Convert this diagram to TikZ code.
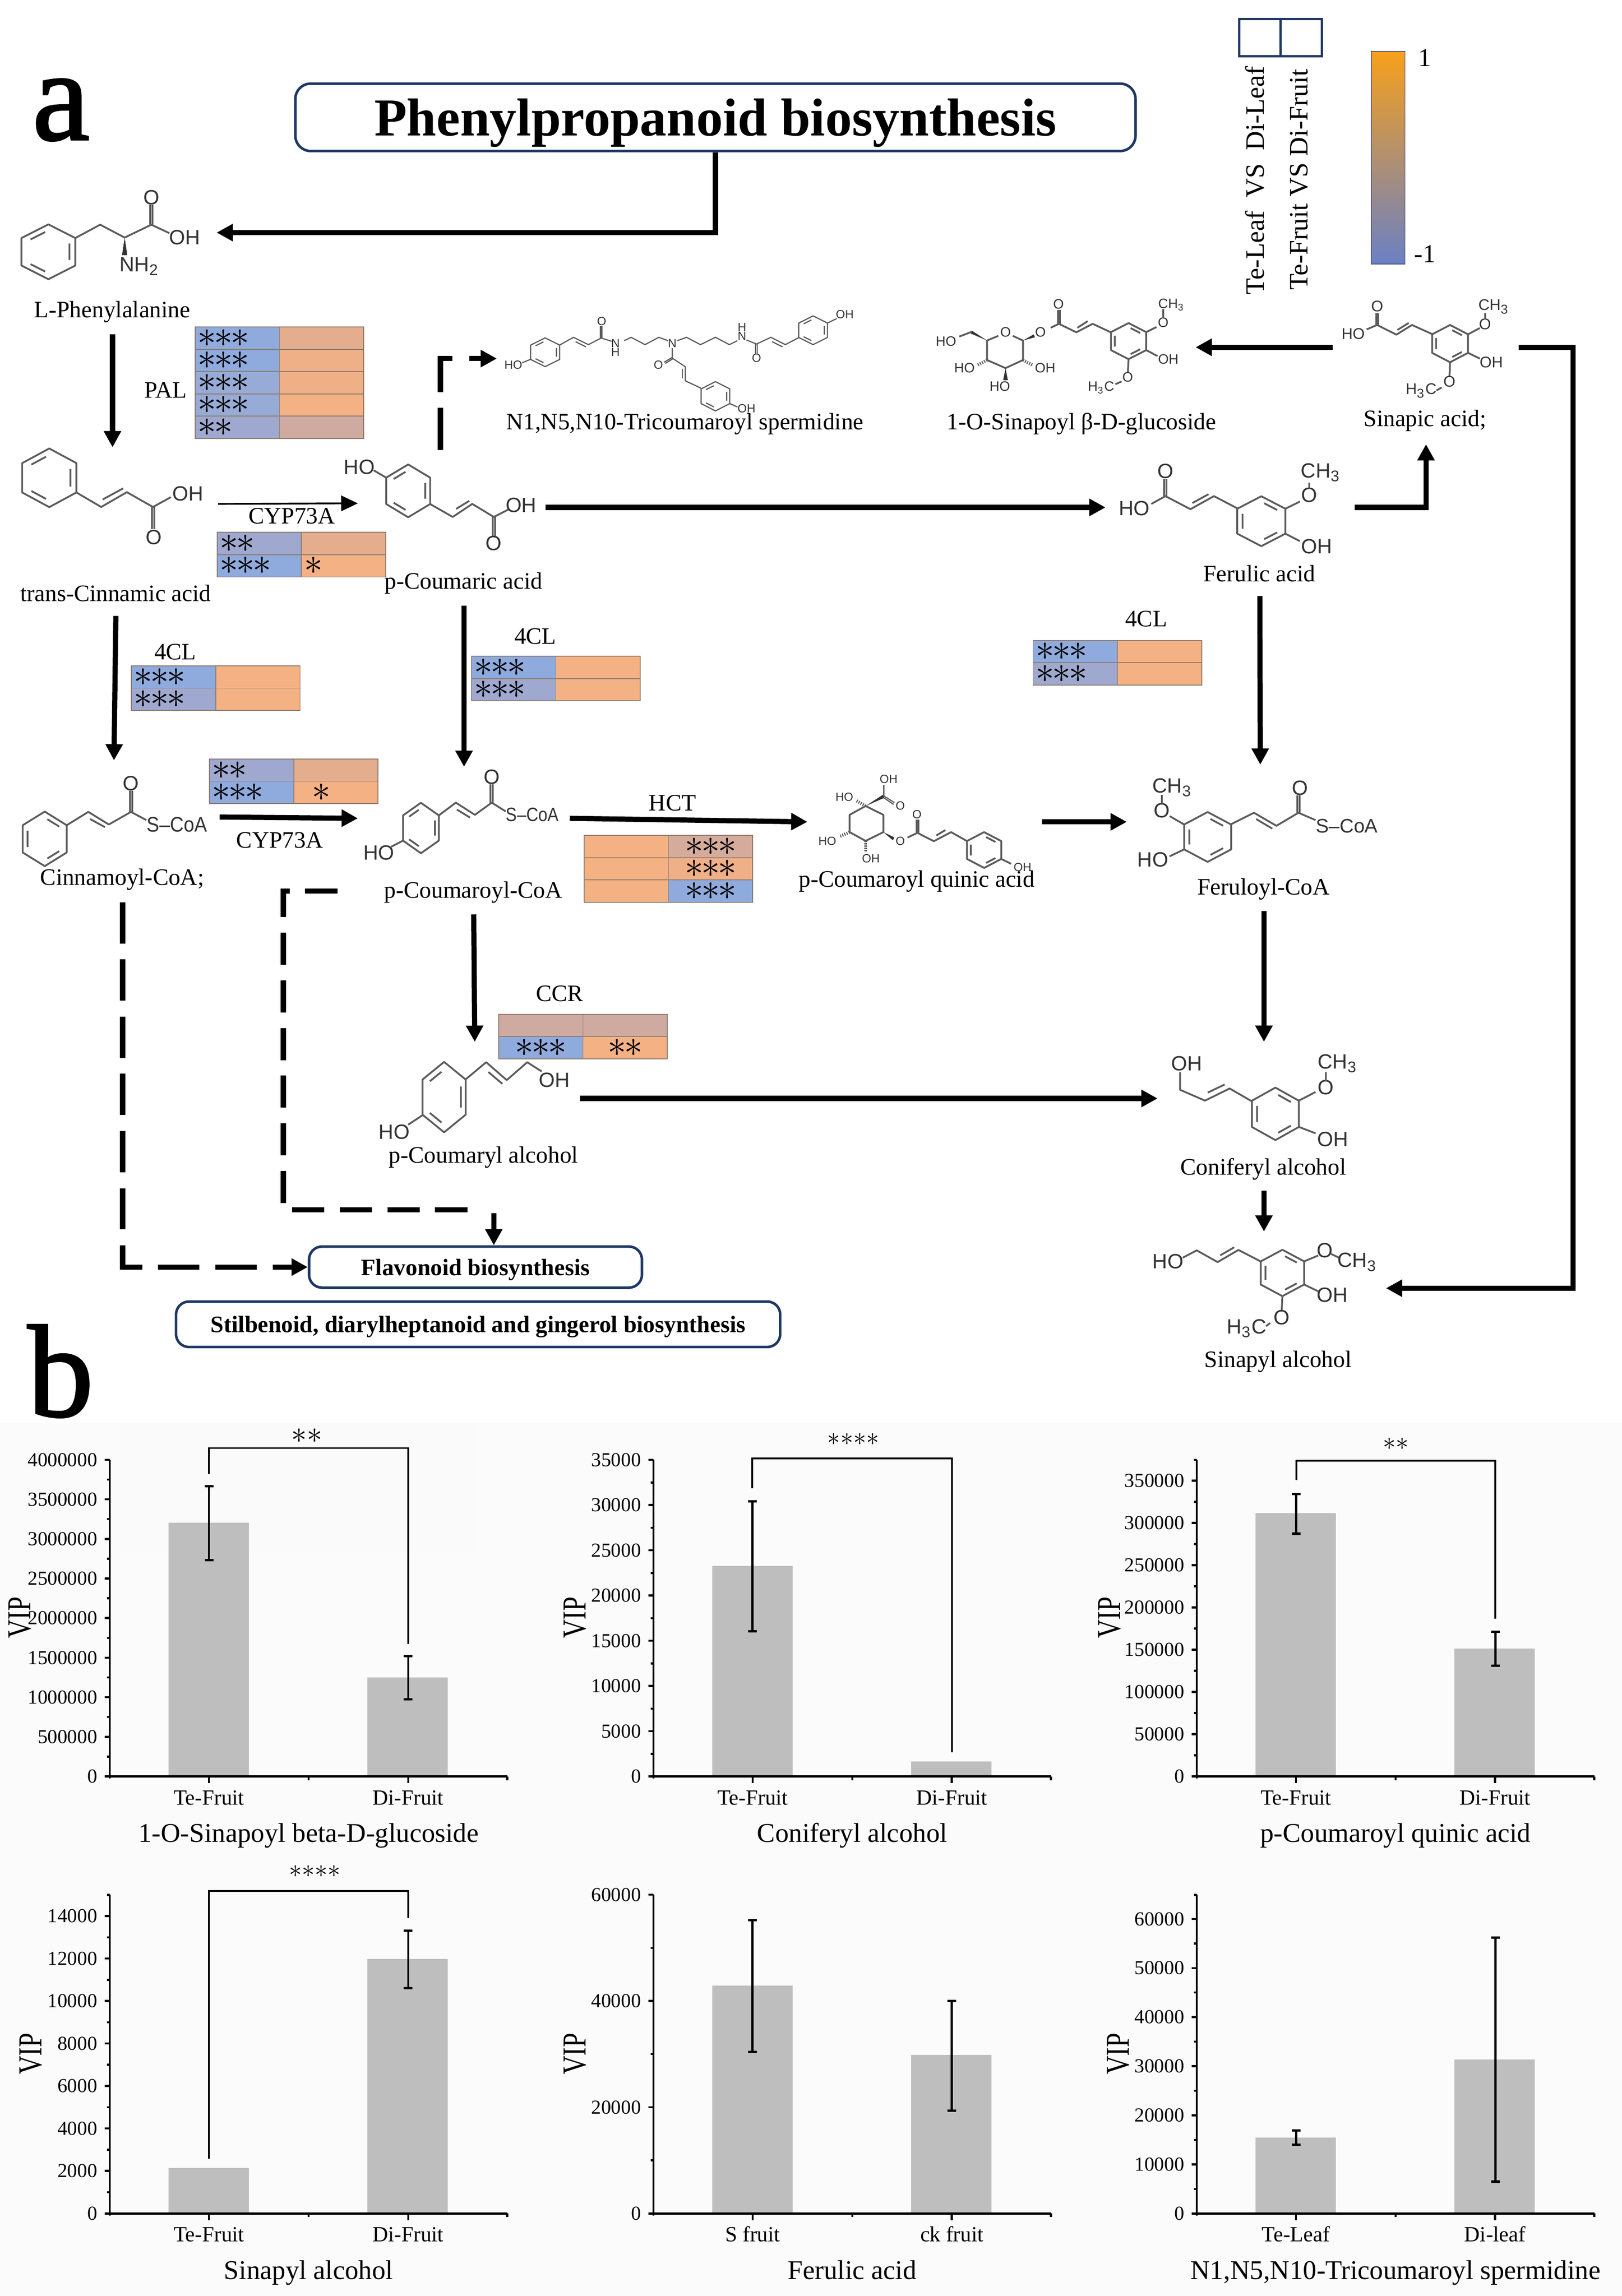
\documentclass[tikz,border=0pt]{standalone}
\usepackage{fontspec}
\setmainfont{Liberation Serif}
\newfontfamily\atomfont{Liberation Sans}
\newfontfamily\partfont[FakeBold=1.6]{Liberation Serif}
\usepackage{amsmath, amssymb}
\usetikzlibrary{positioning}
\usetikzlibrary{arrows.meta}

\definecolor{navybox}{HTML}{1F3864}
\definecolor{molgray}{HTML}{5C5C5C}
\definecolor{hblue}{HTML}{8FAADC}
\definecolor{hbluem}{HTML}{98ABD6}
\definecolor{hblueg}{HTML}{9FA8CE}
\definecolor{horange}{HTML}{F4B183}
\definecolor{horangeb}{HTML}{EFAF87}
\definecolor{hbrown}{HTML}{E4AE8E}
\definecolor{hrose}{HTML}{CEAAA0}
\definecolor{hline}{HTML}{8C7C70}
\definecolor{barfill}{HTML}{BEBEBE}

\tikzset{
	>={Triangle[length=6.3pt,width=6.4pt]},
	flow/.style={->,line width=2pt,draw=black},
	flowthin/.style={-{Triangle[length=6.5pt,width=6pt]},line width=.7pt,draw=black},
	pathbox/.style={draw=navybox,rounded corners=5pt,line width=1pt,fill=white,inner sep=0,text depth=0pt,font=\bfseries\fontsize{9.15}{11}\selectfont},
	lab/.style={inner sep=0,font=\fontsize{9.15}{11}\selectfont},
	bond/.style={draw=molgray,line width=.7pt,line join=round},
	bondthin/.style={draw=molgray,line width=.45pt,line join=round},
	hashbond/.style={draw=molgray,line width=1.2pt,dash pattern=on .4pt off .5pt},
	atom/.style={inner sep=0,text=black!80,font=\atomfont\fontsize{8}{9}\selectfont},
	atomsm/.style={inner sep=0,text=black!80,font=\atomfont\fontsize{5.3}{6}\selectfont},
	atomxs/.style={inner sep=0,text=black!80,font=\atomfont\fontsize{4.6}{5}\selectfont},
	heat/.style={draw=hline,line width=.3pt,inner xsep=.036cm,inner ysep=0,outer sep=0,text width=1.078cm,align=left,minimum width=1.15cm,minimum height=.304cm,anchor=north west,font=\fontsize{14.4}{14.4}\selectfont},
	heatc/.style={heat,align=center},
	axisline/.style={draw=black,line width=.8pt},
	errbar/.style={draw=black,line width=.8pt,{Bar[width=3.4pt,line width=.9pt]}-{Bar[width=3.4pt,line width=.9pt]}},
	bracket/.style={draw=black,line width=.7pt,line join=miter},
	ticklab/.style={inner sep=0,font=\fontsize{7.7}{9}\selectfont},
	barlab/.style={inner sep=0,text height=6pt,text depth=0pt,font=\fontsize{8.4}{9}\selectfont},
	charttitle/.style={inner sep=0,text height=8pt,text depth=2pt,font=\fontsize{10.5}{12}\selectfont},
	viplab/.style={inner sep=0,rotate=90,font=\fontsize{10}{12}\selectfont},
	sigstar/.style={inner sep=0,font=\fontsize{10}{10}\selectfont},
}

\newcommand{\onestar}{\mathord{\ast}}
\newcommand{\sthree}{$\onestar\mkern-1mu\onestar\mkern-1mu\onestar$}
\newcommand{\stwo}{$\onestar\mkern-1mu\onestar$}

% ring: style, centre x, centre y, half width, half height, side of the inner lines (1 or -1)
\newcommand{\molring}[6]{
	\begin{scope}[shift={(#2,#3)},x=#4*0.02cm,y=#5*0.02cm,xscale=#6]
		\draw[#1] (1,.5) -- (0,1) -- (-1,.5) -- (-1,-.5) -- (0,-1) -- (1,-.5) -- cycle;
		\draw[#1] (-.66,.45) -- (-.12,.72) (.78,.3) -- (.78,-.3) (-.66,-.45) -- (-.12,-.72);
	\end{scope}
}

% chart: name, left x, base y, top y, bar tops, bar labels, compound
\newcommand{\vipchart}[9]{
	\fill[barfill] (#2+40.1,#5) rectangle (#2+94.9,#3);
	\fill[barfill] (#2+175.7,#6) rectangle (#2+230.3,#3);
	\draw[axisline] (#2,#4) -- (#2,#3) -- (#2+271,#3);
	\foreach \dx/\len in {0/1.5,67.6/4.5,135.5/2.5,203.4/4.5,271/2.5}
		\draw[axisline] (#2+\dx,#3) -- (#2+\dx,#3+\len);
	\node[barlab] (#1a) at (#2+67.6,#3+14) {#7};
	\node[barlab] (#1b) at (#2+203.4,#3+14) {#8};
	\node[charttitle] (#1t) at (#2+135.5,#3+39.5) {#9};
}

% ticks: name, left x, base y, step, labels, last half step
\newcommand{\vipticks}[6]{
	\foreach \lab [count=\i from 0] in {#5}
		\draw[axisline] (#2-3.5,#3-\i*#4) node[ticklab,left=2.5pt] (#1y\i) {\lab} -- (#2,#3-\i*#4);
	\foreach \i in {0,...,#6}
		\draw[axisline] (#2-2,#3-\i*#4-.5*#4) -- (#2,#3-\i*#4-.5*#4);
}

\begin{document}
\begin{tikzpicture}[x=0.02cm,y=-0.02cm]
		\useasboundingbox (0,0) rectangle (1105.9,1565.6);
		\fill[white] (0,0) rectangle (1105.9,1565.6);
		\fill[black!1.5] (0,970) rectangle (1105.9,1565.6);
		\fill[black!2] (82,970) rectangle (324,1058);

		\node[inner sep=0,font=\partfont\fontsize{50}{52}\selectfont] (parta) at (41.6,75) {a};
		\node[inner sep=0,font=\partfont\fontsize{51}{52}\selectfont] (partb) at (41.3,935) {b};

		\node[pathbox,rounded corners=6pt,minimum width=11.46cm,minimum height=.92cm,font=\bfseries\fontsize{20.7}{24}\selectfont] (title) at (487.8,80) {Phenylpropanoid biosynthesis};
		\node[pathbox,minimum width=4.54cm,minimum height=.56cm] (flav) at (324.2,864) {Flavonoid biosynthesis};
		\node[pathbox,minimum width=8.24cm,minimum height=.62cm] (stilb) at (326,903) {Stilbenoid, diarylheptanoid and gingerol biosynthesis};

		% legend
		\node[draw=navybox,line width=.9pt,inner sep=0,outer sep=0,minimum width=.565cm,minimum height=.51cm] (lega) at (859,25.7) {};
		\node[draw=navybox,line width=.9pt,inner sep=0,outer sep=0,minimum width=.565cm,minimum height=.51cm,right=0 of lega] (legb) {};
		\node[inner sep=0,rotate=90,font=\fontsize{10.3}{12}\selectfont] (legal) at (855.5,123) {Te-Leaf\ \ VS\ \ Di-Leaf};
		\node[inner sep=0,rotate=90,font=\fontsize{10.3}{12}\selectfont] (leggl) at (885.6,122.5) {Te-Fruit VS Di-Fruit};
		\node[draw=black!40!blue!30!gray,line width=.3pt,inner sep=0,minimum width=.46cm,minimum height=2.9cm,top color={rgb,255:red,247;green,160;blue,27},middle color={rgb,255:red,170;green,148;blue,132},bottom color={rgb,255:red,107;green,128;blue,196}] (cbar) at (946.5,107.5) {};
		\node[inner sep=0,font=\fontsize{10}{12}\selectfont] (cbarhi) at (971.6,39.6) {1};
		\node[inner sep=0,font=\fontsize{10}{12}\selectfont] (cbarlo) at (971.6,173) {-1};

		% L-Phenylalanine
		\molring{bond}{33}{171.7}{18.4}{18.7}{1}
		\draw[bond] (51.4,162.3) -- (68.3,153.2) -- (85,162) -- (103.2,153.2) -- (115.5,159);
		\draw[bond] (102.4,153.2) -- (102.4,139.8) (104,153.2) -- (104,139.8);
		\fill[black!80] (85,162) -- (83.2,174) -- (86.8,174) -- cycle;
		\node[atom] (pheo) at (103.2,134.5) {O};
		\node[atom] (pheoh) at (126,162) {OH};
		\node[atom] (phenh) at (95,181.5) {NH\textsubscript{2}};
		\node[lab] (phelab) at (76.6,212.7) {L-Phenylalanine};

		% trans-Cinnamic acid
		\molring{bond}{33.6}{325.8}{18.5}{20}{1}
		\draw[bond] (52.1,335.8) -- (69,345.7) -- (86.5,335.6) -- (104.3,345.7) -- (116.5,339);
		\draw[bond] (70,340.6) -- (84,333);
		\draw[bond] (103.5,345.7) -- (103.5,360.6) (105.1,345.7) -- (105.1,360.6);
		\node[atom] (cinoh) at (128,336.5) {OH};
		\node[atom] (cino) at (105,366.5) {O};
		\node[lab] (cinlab) at (78.8,404.6) {trans-Cinnamic acid};

		% p-Coumaric acid
		\molring{bond}{278.3}{334.7}{15}{18}{1}
		\node[atom] (coumho) at (245,318.3) {HO};
		\draw[bond] (254.8,320.7) -- (263.3,325.7);
		\draw[bond] (293.3,343.7) -- (308.7,352.5) -- (322,343.6) -- (336.7,352.5) -- (346.5,347.5);
		\draw[bond] (311,347) -- (320,341.5);
		\draw[bond] (335.9,352.5) -- (335.9,366) (337.5,352.5) -- (337.5,366);
		\node[atom] (coumoh) at (355.3,344.5) {OH};
		\node[atom] (coumo) at (336.7,370.4) {O};
		\node[lab] (coumlab) at (316,397.8) {p-Coumaric acid};

		% N1,N5,N10-Tricoumaroyl spermidine
		\molring{bondthin}{371.7}{240.2}{9.9}{9.8}{1}
		\node[atomxs] (sperho) at (350,248.7) {HO};
		\draw[bondthin] (356,247.4) -- (361.8,245);
		\draw[bondthin] (381.6,235.3) -- (391,230) -- (401.2,235) -- (409.9,230.5) -- (417,232.7);
		\draw[bondthin] (392.5,233) -- (399.5,236.5);
		\draw[bondthin] (409.4,230.5) -- (409.4,222.2) (410.4,230.5) -- (410.4,222.2);
		\node[atomxs] (spero) at (410.2,219.2) {O};
		\node[atomxs] (spern) at (419.6,234.1) {N};
		\node[atomxs] (sperh) at (419.6,240) {H};
		\draw[bondthin] (425.6,232.3) -- (430.3,230) -- (439.8,235) -- (449.2,230) -- (455.5,232.3);
		\node[atomxs] (spernb) at (458.4,234.1) {N};
		\draw[bondthin] (461.8,232.3) -- (468.1,230) -- (477.6,235) -- (487.8,230) -- (497.3,235) -- (502.8,232.3);
		\node[atomxs] (spernc) at (505.9,229) {N};
		\node[atomxs] (sperhc) at (505.9,223.2) {H};
		\draw[bondthin] (509,231.8) -- (515.8,234.6) -- (525.6,230) -- (535.5,235) -- (544.6,230.2);
		\draw[bondthin] (526.5,233) -- (533.5,236.5);
		\draw[bondthin] (515.3,234.6) -- (515.3,241) (516.3,234.6) -- (516.3,241);
		\node[atomxs] (sperob) at (515.8,244) {O};
		\molring{bondthin}{554.4}{225.2}{9.8}{9.8}{1}
		\draw[bondthin] (564.2,220.3) -- (570.5,217.2);
		\node[atomxs] (speroh) at (576,214.5) {OH};
		\draw[bondthin] (458.4,237.4) -- (458.4,244.2) -- (467.3,250.1) -- (467.3,259.7) -- (478,264.7);
		\draw[bondthin] (465.3,251.5) -- (465.3,258);
		\draw[bondthin] (458.2,243.8) -- (452.8,247) (458.8,244.6) -- (453.6,247.8);
		\node[atomxs] (speroc) at (448.9,248.7) {O};
		\molring{bondthin}{487.8}{270.2}{9.8}{10}{1}
		\draw[bondthin] (497.6,275.2) -- (502.8,277.5);
		\node[atomxs] (speroh2) at (509,278.7) {OH};
		\node[lab] (sperlab) at (467,289) {N1,N5,N10-Tricoumaroyl spermidine};

		% 1-O-Sinapoyl glucoside
		\node[atomsm] (gluo) at (685.6,226.6) {O};
		\draw[bond] (680.7,229) -- (673,232.2) -- (673,245.5) -- (685.6,251) -- (697.5,245.5) -- (697.5,232.2) -- (690.5,229);
		\fill[black!80] (673,232.2) -- (662.5,225.4) -- (661.9,227.4) -- cycle;
		\draw[bond] (662.5,226.3) -- (654,229.5);
		\node[atomsm] (gluho) at (645,232.7) {HO};
		\fill[black!80] (697.5,232.2) -- (705.6,230) -- (704.8,228) -- cycle;
		\node[atomsm] (gluob) at (709.4,226.6) {O};
		\draw[bond] (716.4,223.5) -- (722,220.8) -- (733.9,226.6) -- (745,220.8) -- (757.4,226.6);
		\draw[bond] (734.6,223.5) -- (741.6,219);
		\draw[bond] (721.4,220.8) -- (721.4,211.2) (722.6,220.8) -- (722.6,211.2);
		\node[atomsm] (gluoc) at (721.7,207.5) {O};
		\molring{bond}{769.5}{232.6}{12}{12.3}{-1}
		\draw[bond] (781.5,226.5) -- (788.5,223);
		\node[atomsm] (gluod) at (793.1,219.9) {O};
		\draw[bond] (793.1,216.5) -- (793.1,210.7);
		\node[atomsm] (gluch) at (798.7,207.8) {CH\textsubscript{3}};
		\draw[bond] (781.5,238.7) -- (789.2,242.8);
		\node[atomsm] (gluoh) at (796.6,245) {OH};
		\draw[bond] (769.5,244.9) -- (769,254.2);
		\node[atomsm] (gluoe) at (768.9,257.1) {O};
		\draw[bond] (764.7,260.1) -- (760.5,262);
		\node[atomsm] (gluhc) at (750.7,264.4) {H\textsubscript{3}C};
		\draw[hashbond] (673,245.5) -- (666,249.2);
		\node[atomsm] (gluhob) at (657.6,251) {HO};
		\draw[hashbond] (697.5,245.5) -- (704.5,249.2);
		\node[atomsm] (gluohb) at (712.6,251) {OH};
		\fill[black!80] (685.6,251) -- (684,259.2) -- (687.2,259.2) -- cycle;
		\node[atomsm] (gluhoc) at (681.7,263.3) {HO};
		\node[lab] (glulab) at (737.4,289) {1-O-Sinapoyl β-D-glucoside};

		% Sinapic acid
		\node[atomsm,font=\atomfont\fontsize{6}{7}\selectfont] (sinao) at (939,208.8) {O};
		\draw[bond] (938.3,221.6) -- (938.3,213.6) (939.7,221.6) -- (939.7,213.6);
		\node[atomsm,font=\atomfont\fontsize{6}{7}\selectfont] (sinaho) at (922.6,227.6) {HO};
		\draw[bond] (931.8,224.6) -- (939,221.6) -- (952.1,228.2) -- (962.7,221.6) -- (976.5,227.8);
		\draw[bond] (952.8,225) -- (960.5,220.2);
		\molring{bond}{988.7}{234.3}{12.2}{12.7}{-1}
		\draw[bond] (1000.9,228) -- (1009,223.7);
		\node[atomsm,font=\atomfont\fontsize{6}{7}\selectfont] (sinaob) at (1012.5,221) {O};
		\draw[bond] (1012.5,218) -- (1012.5,213.6);
		\node[atomsm,font=\atomfont\fontsize{6}{7}\selectfont] (sinach) at (1018.5,209) {CH\textsubscript{3}};
		\draw[bond] (1000.9,240.6) -- (1009,244.5);
		\node[atomsm,font=\atomfont\fontsize{6}{7}\selectfont] (sinaoh) at (1016.8,247) {OH};
		\draw[bond] (988.7,247) -- (988.3,256.5);
		\node[atomsm,font=\atomfont\fontsize{6}{7}\selectfont] (sinaoc) at (988.3,260.3) {O};
		\draw[bond] (983,264.2) -- (979.4,266.3);
		\node[atomsm,font=\atomfont\fontsize{6}{7}\selectfont] (sinahc) at (969,266.5) {H\textsubscript{3}C};
		\node[lab] (sinalab) at (971.6,287) {Sinapic acid;};

		% Ferulic acid
		\node[atom] (ferho) at (773.3,346.6) {HO};
		\node[atom] (fero) at (794.6,321.3) {O};
		\draw[bond] (793.8,338.3) -- (793.8,326.7) (795.4,338.3) -- (795.4,326.7);
		\draw[bond] (785,343.6) -- (794.6,338.3) -- (811.7,347.2) -- (827.7,338.3) -- (843.8,346.7);
		\draw[bond] (813,343) -- (824,337);
		\molring{bond}{860}{355.4}{16.4}{17}{-1}
		\draw[bond] (876.4,346.9) -- (886.3,342);
		\node[atom] (feroc) at (892.7,337.7) {O};
		\draw[bond] (892.7,333.5) -- (892.7,329);
		\node[atom] (ferch) at (900.5,322.2) {CH\textsubscript{3}};
		\draw[bond] (876.4,363.9) -- (886.3,369);
		\node[atom] (feroh) at (897.7,372.5) {OH};
		\node[lab] (ferlab) at (858.6,391.2) {Ferulic acid};

		% Cinnamoyl-CoA
		\molring{bond}{30.5}{572}{15}{18.6}{-1}
		\draw[bond] (45.5,562.7) -- (60.2,553.6) -- (74.2,562.2) -- (89.3,553.6) -- (99.8,559.2);
		\draw[bond] (61.5,558.5) -- (71.5,564);
		\draw[bond] (88.5,553.6) -- (88.5,539.3) (90.1,553.6) -- (90.1,539.3);
		\node[atom] (cinno) at (89.3,534.2) {O};
		\node[atom,font=\atomfont\fontsize{8.2}{9}\selectfont] (cinncoa) at (120.7,562.2) {\scalebox{.9}[1]{S–CoA}};
		\node[lab] (cinnlab) at (83.3,599.7) {Cinnamoyl-CoA;};

		% p-Coumaroyl-CoA
		\molring{bond}{287}{564.6}{12.2}{17.2}{1}
		\node[atom] (croho) at (258.3,581.5) {HO};
		\draw[bond] (266.7,577.4) -- (274.8,573.2);
		\draw[bond] (299.2,556) -- (310.8,547.3) -- (323.8,555.6) -- (335.3,547.3) -- (344.8,553.3);
		\draw[bond] (311.5,552) -- (320.5,557.5);
		\draw[bond] (334.5,547.3) -- (334.5,534.8) (336.1,547.3) -- (336.1,534.8);
		\node[atom] (croo) at (335.3,529.8) {O};
		\node[atom,font=\atomfont\fontsize{7.5}{8}\selectfont] (crocoa) at (363,555.6) {\scalebox{.86}[1]{S–CoA}};
		\node[lab] (crolab) at (322.7,608.3) {p-Coumaroyl-CoA};

		% p-Coumaryl alcohol
		\molring{bond}{302.8}{748.1}{14.7}{24}{1}
		\node[atom] (calho) at (268.8,771.9) {HO};
		\draw[bond] (278.3,766.9) -- (288,760.5);
		\draw[bond] (317.5,736) -- (331.5,724.3) -- (345.5,736.5) -- (359.5,724.3) -- (369.3,730.6);
		\draw[bond] (333,731) -- (342.5,739);
		\node[atom] (caloh) at (378,736.5) {OH};
		\node[lab] (callab) at (329.7,789.2) {p-Coumaryl alcohol};

		% p-Coumaroyl quinic acid
		\draw[bond] (590.2,549.6) -- (602.3,555.6) -- (602.3,567.4) -- (590.2,573.4) -- (579.3,567.4) -- (579.3,555.6) -- cycle;
		\fill[black!80] (590.2,549.6) -- (602.2,541.8) -- (603,544) -- cycle;
		\draw[bond] (602.6,543.2) -- (602.6,535);
		\node[atomxs] (quioh) at (605.9,531.3) {OH};
		\draw[bondthin] (602.6,542.7) -- (609.8,547.3) (602.6,544) -- (609.3,548.5);
		\node[atomxs] (quio) at (613.8,549.3) {O};
		\draw[hashbond] (590.2,549.6) -- (584,546);
		\node[atomxs] (quiho) at (575.7,543.5) {HO};
		\draw[hashbond] (579.3,567.4) -- (572.9,570.2);
		\node[atomxs] (quihob) at (564.1,573.4) {HO};
		\draw[hashbond] (590.2,573.4) -- (590.2,580.7);
		\node[atomxs] (quiohb) at (593.8,585.3) {OH};
		\fill[black!80] (602.3,567.4) -- (609.8,571) -- (608.8,573) -- cycle;
		\node[atomxs] (quioc) at (613.8,573.4) {O};
		\draw[bond] (618.8,571.1) -- (625.5,567.9) -- (636.7,573.6) -- (648.5,567.4) -- (659.5,573.6);
		\draw[bond] (638.4,569.7) -- (644.6,566);
		\draw[bond] (624.9,567.9) -- (624.9,558.8) (626.1,567.9) -- (626.1,558.8);
		\node[atomxs] (quiod) at (625.2,555.3) {O};
		\molring{bond}{671}{579.6}{11.7}{12.2}{-1}
		\draw[bond] (682.7,585.7) -- (689.4,589);
		\node[atomxs] (quiohc) at (697.2,591.2) {OH};
		\node[lab] (quilab) at (625,601) {p-Coumaroyl quinic acid};

		% Feruloyl-CoA
		\node[atom] (fcoch) at (799.3,536.9) {CH\textsubscript{3}};
		\node[atom] (fcoo) at (792.2,552.7) {O};
		\draw[bond] (792.2,547.8) -- (792.2,542);
		\molring{bond}{823.4}{570.7}{16}{17}{-1}
		\draw[bond] (797.5,556.5) -- (807.4,562.2);
		\node[atom] (fcoho) at (786.1,586.3) {HO};
		\draw[bond] (797.5,583.9) -- (807.4,579.2);
		\draw[bond] (839.4,562) -- (855,554.2) -- (870.3,563.1) -- (885.3,554.2) -- (897,559.2);
		\draw[bond] (856.5,558.5) -- (867.5,565);
		\draw[bond] (884.5,554.2) -- (884.5,542.3) (886.1,554.2) -- (886.1,542.3);
		\node[atom] (fcoob) at (886.3,537.2) {O};
		\node[atom,font=\atomfont\fontsize{7.6}{8}\selectfont] (fcocoa) at (918.3,563.1) {S–CoA};
		\node[lab] (fcolab) at (861.5,606.2) {Feruloyl-CoA};

		% Coniferyl alcohol
		\node[atom] (conoh) at (809.2,725.2) {OH};
		\draw[bond] (804.6,731.2) -- (804.6,743.1) -- (821.6,750.5) -- (838.4,742.2) -- (853.6,751);
		\draw[bond] (823.5,745) -- (835,739.5);
		\molring{bond}{869.6}{759.5}{16}{17.9}{-1}
		\draw[bond] (885.6,750.5) -- (897,744.6);
		\node[atom] (cono) at (904,741.6) {O};
		\draw[bond] (904,737) -- (904,731.2);
		\node[atom] (conch) at (912,725.2) {CH\textsubscript{3}};
		\draw[bond] (885.6,768.4) -- (897,772.8);
		\node[atom] (conohb) at (908.7,776.7) {OH};
		\node[lab] (conlab) at (861.4,797.2) {Coniferyl alcohol};

		% Sinapyl alcohol
		\node[atom] (splho) at (796.4,860) {HO};
		\draw[bond] (806.4,857.6) -- (816,852.6) -- (830.2,860.6) -- (844.4,852.3) -- (859.7,860.2);
		\draw[bond] (832,856) -- (841.5,850.5);
		\molring{bond}{874.4}{868}{14.8}{15.8}{-1}
		\draw[bond] (889.2,860.1) -- (898.8,856.1);
		\node[atom] (splo) at (903.4,852.6) {O};
		\draw[bond] (907.5,855) -- (913,857.6);
		\node[atom] (splch) at (925.4,860.6) {CH\textsubscript{3}};
		\draw[bond] (889.2,875.9) -- (898.8,880.5);
		\node[atom] (sploh) at (908.4,882.9) {OH};
		\draw[bond] (874.4,883.8) -- (873.9,893.3);
		\node[atom] (sploc) at (873.9,898.4) {O};
		\draw[bond] (866,902.2) -- (863.2,904.3);
		\node[atom] (splhc) at (850,905.8) {H\textsubscript{3}C};
		\node[lab] (spllab) at (871.4,928.5) {Sinapyl alcohol};

		% PAL
		\node[lab] (pal) at (113,266) {PAL};
		\node[heat,fill=hblue] (pal1a) at (133,223) {\sthree};
		\node[heat,fill=hbrown,right=0 of pal1a] (pal1b) {};
		\node[heat,fill=hblue,below=0 of pal1a] (pal2a) {\sthree};
		\node[heat,fill=horangeb,right=0 of pal2a] (pal2b) {};
		\node[heat,fill=hbluem,below=0 of pal2a] (pal3a) {\sthree};
		\node[heat,fill=horangeb,right=0 of pal3a] (pal3b) {};
		\node[heat,fill=hbluem,below=0 of pal3a] (pal4a) {\sthree};
		\node[heat,fill=horange,right=0 of pal4a] (pal4b) {};
		\node[heat,fill=hblueg,below=0 of pal4a] (pal5a) {\stwo};
		\node[heat,fill=hrose,right=0 of pal5a] (pal5b) {};

		% CYP73A
		\node[lab] (cypa) at (199,352) {CYP73A};
		\node[heat,fill=hblueg] (cypa1a) at (148,363) {\stwo};
		\node[heat,fill=hbrown,right=0 of cypa1a] (cypa1b) {};
		\node[heat,fill=hblue,below=0 of cypa1a] (cypa2a) {\sthree};
		\node[heat,fill=horange,right=0 of cypa2a] (cypa2b) {$\onestar$};

		\node[lab] (cypb) at (190.7,573) {CYP73A};
		\node[heat,fill=hblueg] (cypb1a) at (142.8,517.6) {\stwo};
		\node[heat,fill=hbrown,right=0 of cypb1a] (cypb1b) {};
		\node[heat,fill=hblue,below=0 of cypb1a] (cypb2a) {\sthree};
		\node[heat,fill=horange,right=0 of cypb2a] (cypb2b) {\hspace*{6pt}$\onestar$};

		% 4CL
		\node[lab] (cla) at (119.5,444.5) {4CL};
		\node[heat,fill=hblue] (cla1a) at (89.6,454) {\sthree};
		\node[heat,fill=horange,right=0 of cla1a] (cla1b) {};
		\node[heat,fill=hblueg,below=0 of cla1a] (cla2a) {\sthree};
		\node[heat,fill=horange,right=0 of cla2a] (cla2b) {};

		\node[lab] (clb) at (365,434) {4CL};
		\node[heat,fill=hblue] (clb1a) at (321.5,447.5) {\sthree};
		\node[heat,fill=horange,right=0 of clb1a] (clb1b) {};
		\node[heat,fill=hblueg,below=0 of clb1a] (clb2a) {\sthree};
		\node[heat,fill=horange,right=0 of clb2a] (clb2b) {};

		\node[lab] (clc) at (781.5,422) {4CL};
		\node[heat,fill=hblue] (clc1a) at (704.4,436.7) {\sthree};
		\node[heat,fill=horange,right=0 of clc1a] (clc1b) {};
		\node[heat,fill=hblueg,below=0 of clc1a] (clc2a) {\sthree};
		\node[heat,fill=horange,right=0 of clc2a] (clc2b) {};

		% HCT
		\node[lab] (hct) at (458.5,547.6) {HCT};
		\node[heatc,fill=horange] (hct1a) at (398.3,569.6) {};
		\node[heatc,fill=hrose!70!hbrown,right=0 of hct1a] (hct1b) {\sthree};
		\node[heatc,fill=horange,below=0 of hct1a] (hct2a) {};
		\node[heatc,fill=horangeb,right=0 of hct2a] (hct2b) {\sthree};
		\node[heatc,fill=horange,below=0 of hct2a] (hct3a) {};
		\node[heatc,fill=hblue,right=0 of hct3a] (hct3b) {\sthree};

		% CCR
		\node[lab] (ccr) at (381.5,677.6) {CCR};
		\node[heatc,fill=hrose] (ccr1a) at (340,691.6) {};
		\node[heatc,fill=hrose,right=0 of ccr1a] (ccr1b) {};
		\node[heatc,fill=hblue,below=0 of ccr1a] (ccr2a) {\sthree};
		\node[heatc,fill=horange,right=0 of ccr2a] (ccr2b) {\stwo};

		% free ends of the connectors
		\coordinate (pheIn) at (147.7,158.6);
		\coordinate (pheOut) at (76.7,228);
		\coordinate (cinIn) at (76.7,305);
		\coordinate (cinOut) at (148.8,343.6);
		\coordinate (cinDown) at (79,420);
		\coordinate (coumIn) at (244,343.2);
		\coordinate (coumOut) at (372,346);
		\coordinate (coumDown) at (316.4,413);
		\coordinate (coumUp) at (300.3,307);
		\coordinate (sperIn) at (338.8,244.5);
		\coordinate (ferIn) at (753.8,346);
		\coordinate (ferOut) at (923.6,346);
		\coordinate (ferDown) at (859,406.4);
		\coordinate (sinaIn) at (972.3,302.9);
		\coordinate (sinaOut) at (908.7,236.8);
		\coordinate (sinaRight) at (1035.6,236.8);
		\coordinate (sinaTurn) at (1072.5,878.4);
		\coordinate (gluIn) at (815.2,236.8);
		\coordinate (cinnIn) at (77.7,518.5);
		\coordinate (cinnOut) at (149.8,557.1);
		\coordinate (cinnDown) at (83.6,615.2);
		\coordinate (croIn) at (244,558);
		\coordinate (croTop) at (316.4,522.9);
		\coordinate (croOut) at (388.5,558);
		\coordinate (croDown) at (323,623.5);
		\coordinate (croLeft) at (230,607.7);
		\coordinate (croTurn) at (193.2,825);
		\coordinate (croEnd) at (327.3,825);
		\coordinate (quiIn) at (550.5,560.4);
		\coordinate (quiOut) at (710.4,560.4);
		\coordinate (fcoIn) at (768.3,560.4);
		\coordinate (fcoTop) at (859.3,521.4);
		\coordinate (fcoDown) at (861.8,621.1);
		\coordinate (calIn) at (323.7,710.4);
		\coordinate (calOut) at (395.5,749);
		\coordinate (conIn) at (789.3,749);
		\coordinate (conTop) at (861.8,710.4);
		\coordinate (conDown) at (861.8,812);
		\coordinate (splTop) at (861.8,839.8);
		\coordinate (splIn) at (945,878.4);
		\coordinate (flavTop) at (336.7,827.3);

		\draw[flow] (title.south) |- (pheIn);
		\draw[flow] (pheOut) -- (cinIn);
		\draw[flowthin] (cinOut) -- (coumIn);
		\draw[flow] (coumOut) -- (ferIn);
		\draw[flow] (coumDown) -- (croTop);
		\draw[flow] (cinDown) -- (cinnIn);
		\draw[flow] (cinnOut) -- (croIn);
		\draw[flow] (croOut) -- (quiIn);
		\draw[flow] (quiOut) -- (fcoIn);
		\draw[flow] (ferDown) -- (fcoTop);
		\draw[flow] (fcoDown) -- (conTop);
		\draw[flow] (conDown) -- (splTop);
		\draw[flow] (calOut) -- (conIn);
		\draw[flow] (croDown) -- (calIn);
		\draw[flow] (ferOut) -| (sinaIn);
		\draw[flow] (sinaOut) -- (gluIn);
		\draw[flow] (sinaRight) -| (sinaTurn) -- (splIn);
		\draw[flow,dash pattern=on 16.4pt off 6.2pt on 17.6pt off 6.5pt on 30pt] (coumUp) |- (sperIn);
		\draw[flow,dash pattern=on 16pt off 6.2pt] (cinnDown) |- (flav.west);
		\draw[line width=2pt,dash pattern=on 12.5pt off 6pt] (croLeft) -| (croTurn) -- (croEnd);
		\draw[flow] (flavTop) -- (flavTop |- flav.north);

		% part b
		\vipchart{ca}{74.9}{1211.3}{995.4}{1038.4}{1143.9}{Te-Fruit}{Di-Fruit}{1-O-Sinapoyl beta-D-glucoside}
		\vipticks{ca}{74.9}{1211.3}{26.99}{0,500000,1000000,1500000,2000000,2500000,3000000,3500000,4000000}{7}
		\node[viplab] (cavip) at (13.5,1103) {\scalebox{1}[1.3]{VIP}};
		\draw[errbar] (142.5,1012.6) -- (142.5,1064.7);
		\draw[errbar] (278.3,1128.5) -- (278.3,1159.6);
		\draw[bracket] (142.5,1005) -- (142.5,987.4) -- (278.3,987.4) -- (278.3,1120.8);
		\node[sigstar,font=\fontsize{12}{12}\selectfont] (castar) at (209.3,979) {$\onestar\onestar$};

		\vipchart{cb}{445.6}{1211.3}{995.4}{1067.6}{1201.2}{Te-Fruit}{Di-Fruit}{Coniferyl alcohol}
		\vipticks{cb}{445.6}{1211.3}{30.84}{0,5000,10000,15000,20000,25000,30000,35000}{6}
		\node[viplab] (cbvip) at (392,1103) {\scalebox{1}[1.3]{VIP}};
		\draw[errbar] (513,1023) -- (513,1113);
		\draw[bracket] (513,1014.7) -- (513,994.5) -- (649,994.5) -- (649,1194.7);
		\node[sigstar] (cbstar) at (581.8,981.5) {$\onestar\onestar\onestar\onestar$};

		\vipchart{cc}{816}{1211.3}{995.4}{1031.8}{1124}{Te-Fruit}{Di-Fruit}{p-Coumaroyl quinic acid}
		\vipticks{cc}{816}{1211.3}{28.8}{0,50000,100000,150000,200000,250000,300000,350000}{6}
		\draw[axisline] (814,995.4) -- (816,995.4);
		\node[viplab] (ccvip) at (756.6,1103) {\scalebox{1}[1.3]{VIP}};
		\draw[errbar] (883.8,1017.8) -- (883.8,1046.6);
		\draw[errbar] (1019.6,1112) -- (1019.6,1136.5);
		\draw[bracket] (883.8,1009.3) -- (883.8,996) -- (1019.6,996) -- (1019.6,1103.6);
		\node[sigstar] (ccstar) at (951.7,984.5) {$\onestar\onestar$};

		\vipchart{cd}{74.9}{1509.3}{1292}{1478.3}{1335.7}{Te-Fruit}{Di-Fruit}{Sinapyl alcohol}
		\vipticks{cd}{74.9}{1509.3}{28.97}{0,2000,4000,6000,8000,10000,12000,14000}{6}
		\draw[axisline] (72.9,1292) -- (74.9,1292);
		\node[viplab] (cdvip) at (21,1400.5) {\scalebox{1}[1.3]{VIP}};
		\draw[errbar] (278.3,1315.6) -- (278.3,1356.4);
		\draw[bracket] (142.5,1472) -- (142.5,1289.3) -- (278.3,1289.3) -- (278.3,1307.9);
		\node[sigstar] (cdstar) at (214.6,1276) {$\onestar\onestar\onestar\onestar$};

		\vipchart{ce}{445.6}{1509.3}{1292}{1353.9}{1401.3}{S fruit}{ck fruit}{Ferulic acid}
		\vipticks{ce}{445.6}{1509.3}{72.45}{0,20000,40000,60000}{2}
		\node[viplab] (cevip) at (392,1400.5) {\scalebox{1}[1.3]{VIP}};
		\draw[errbar] (513,1308.4) -- (513,1400);
		\draw[errbar] (649,1363.6) -- (649,1440);

		\vipchart{cf}{816}{1509.3}{1292}{1457.4}{1404.2}{Te-Leaf}{Di-leaf}{N1,N5,N10-Tricoumaroyl spermidine}
		\vipticks{cf}{816}{1509.3}{33.47}{0,10000,20000,30000,40000,50000,60000}{5}
		\draw[axisline] (814,1292) -- (816,1292);
		\node[viplab] (cfvip) at (762.6,1400.5) {\scalebox{1}[1.3]{VIP}};
		\draw[errbar] (883.8,1452) -- (883.8,1463.2);
		\draw[errbar] (1019.6,1320.4) -- (1019.6,1488.4);
\end{tikzpicture}
\end{document}
